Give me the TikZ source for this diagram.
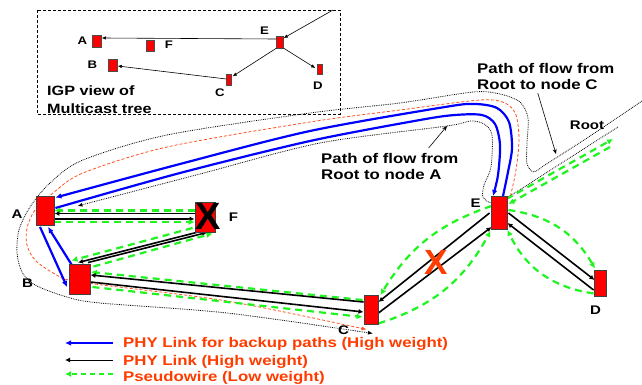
\documentclass[tikz,border=0pt]{standalone}
\usepackage{fontspec}
\setmainfont{Liberation Sans}[FakeStretch=1.2]
\newfontfamily\narrowsans{Liberation Sans}
\usetikzlibrary{arrows.meta,calc,positioning,backgrounds}
\definecolor{pwgreen}{RGB}{30,245,30}
\definecolor{flowred}{RGB}{255,80,30}
\definecolor{legred}{RGB}{255,60,0}

\begin{document}
\begin{tikzpicture}[x=1pt,y=-1pt,
  router/.style={draw=black!75,line width=0.9pt,fill=red,inner sep=0pt},
  mini/.style={draw=black!70,line width=0.5pt,fill=red,inner sep=0pt},
  phy/.style={line width=1.6pt,-{Latex[length=5pt,width=5pt]}},
  pw/.style={pwgreen,line width=2.2pt,dash pattern=on 7pt off 5pt,-{Latex[length=6pt,width=6pt]}},
  backup/.style={blue,line width=2.2pt,-{Latex[length=6pt,width=5.5pt]}},
  rootpath/.style={line width=0.8pt,densely dotted,-{Latex[length=5pt,width=4pt]}},
  redpath/.style={flowred,line width=0.8pt,dash pattern=on 3pt off 2pt,-{Latex[length=5pt,width=4pt]}},
  igp/.style={line width=0.6pt,-{Latex[length=4pt,width=3.5pt]}},
  lbl/.style={font=\bfseries\fontsize{12.5}{15}\selectfont,inner sep=0pt},
  small/.style={font=\bfseries\fontsize{11}{13}\selectfont,inner sep=0pt},
  note/.style={font=\bfseries\fontsize{14}{16.5}\selectfont,inner sep=0pt,align=left,anchor=north west},
  legend/.style={text=legred,font=\bfseries\fontsize{14}{16}\selectfont,inner sep=0pt,anchor=base west}]

\useasboundingbox (0,0) rectangle (642,385);

% IGP view of the tree
\draw[line width=0.8pt,dash pattern=on 3pt off 2pt] (37,10) rectangle (340,114);
\node[mini,minimum width=9pt,minimum height=12pt] (ia) at (97,41) {};
\node[mini,minimum width=8pt,minimum height=11pt] (if) at (150,46) {};
\node[mini,minimum width=9pt,minimum height=12pt] (ib) at (113,65) {};
\node[mini,minimum width=7pt,minimum height=12pt] (ie) at (280,42) {};
\node[mini,minimum width=5pt,minimum height=11pt] (ic) at (229,80) {};
\node[mini,minimum width=5pt,minimum height=10pt] (id) at (320,69) {};
\coordinate (iroot) at (333,10);
\node[small] at (82.5,41) {A};
\node[small] at (169,45) {F};
\node[small] at (92.5,65) {B};
\node[small] at (264.5,30.5) {E};
\node[small] at (220,93) {C};
\node[small] at (318,86) {D};
\node[note,font=\bfseries\fontsize{13.5}{18}\selectfont] (igpview) at (47,86) {IGP view of\\Multicast tree};
\draw[igp] (iroot) -- ($(ie.east)+(0,-4)$);
\draw[igp] ($(ie.west)+(0,-3)$) -- ($(ia.east)+(0,-3)$);
\draw[igp] ($(ie.south west)+(0,0)$) -- ($(ic.north east)+(1,2)$);
\draw[igp] ($(ie.south east)$) -- ($(id.west)+(-2,-1)$);
\draw[igp] ($(ic.west)+(0,-1)$) -- ($(ib.east)+(0,1)$);

% routers
\node[router,minimum width=18pt,minimum height=29pt] (A) at (45,211) {};
\node[router,minimum width=21pt,minimum height=30pt] (B) at (79.5,279) {};
\node[router,minimum width=20pt,minimum height=30pt] (F) at (205,217) {};
\node[router,minimum width=14pt,minimum height=29pt] (C) at (371,310) {};
\node[router,minimum width=16pt,minimum height=33pt] (E) at (499,213) {};
\node[router,minimum width=12pt,minimum height=26pt] (D) at (600,283) {};
\node[lbl] at (17,214.5) {A};
\node[lbl] at (27.5,283.5) {B};
\node[lbl] at (233.5,217.5) {F};
\node[lbl] at (343.5,330.5) {C};
\node[lbl] at (475.5,203.5) {E};
\node[lbl] at (595.5,310.5) {D};
\node[font=\narrowsans\bfseries\fontsize{38}{38}\selectfont,inner sep=0pt] (fail) at (208.5,216) {X};
\node[font=\narrowsans\bfseries\fontsize{35}{35}\selectfont,text=legred,inner sep=0pt] (cut) at (436,262) {X};

% flows and notes
\coordinate (rootC) at (642,101);
\coordinate (rootA) at (618,127);
\coordinate (pwOut) at (613,139);
\coordinate (pwIn) at (610,147);
\node[lbl] (root) at (587,125) {Root};
\node[note] (noteC) at (477,63) {Path of flow from\\Root to node C};
\node[note] (noteA) at (321,153) {Path of flow from\\Root to node A};
\coordinate (hC) at (556,154);
\coordinate (hA) at (447,126);
\draw[line width=0.6pt,-{Stealth[length=5pt,width=4pt]}] ($(noteC.south)+(-8,3)$) -- (hC);
\draw[line width=0.6pt,-{Stealth[length=5pt,width=4pt]}] ($(noteA.north east)+(-30,-5)$) -- (hA);

\coordinate (bo1) at ($(E.north)+(4,0)$);
\coordinate (bo2) at ($(A.north east)+(1,1.5)$);
\coordinate (bi1) at ($(A.east)+(1,-3)$);
\coordinate (bi2) at ($(E.north)+(-6,0)$);
\coordinate (or1) at ($(E.north east)+(3,0)$);
\coordinate (or2) at ($(C.south west)+(3,4.5)$);
\coordinate (dc) at ($(C.south)+(2,8.5)$);
\coordinate (da) at ($(A.east)+(23,-5)$);

\begin{scope}[on background layer]
\draw[rootpath] plot[smooth] coordinates {(rootC) (590,136) (545,165) (534,172) (527,164) (527,143) (528,118) (520,102) (500,94) (473,92) (400,103) (310,113) (167,135) (83,160) (50,183) (30,207) (19,230) (17,253) (22,272) (35,285) (67,297) (100,303) (227,313) (dc)};
\draw[redpath] plot[smooth] coordinates {(or1) (516,170) (519,140) (516,115) (505,103) (480,100) (400,110) (310,122) (167,147) (83,173) (53,193) (35,210) (27,228) (27,245) (35,260) (55,274) (80,282) (227,301) (or2)};
\draw[backup] plot[smooth] coordinates {(bo1) (508,172) (512,148) (509,122) (497,108) (475,104) (445,107) (310,131) (180,164) (bo2)};
\draw[backup] plot[smooth] coordinates {(bi1) (180,173) (310,141) (420,120) (455,115) (482,115) (495,124) (500,145) (498,175) (bi2)};
\draw[rootpath] plot[smooth] coordinates {(rootA) (560,164) (508,197) (492,203) (483,197) (484,185) (491,167) (492,135) (484,124) (470,121) (447,126) (320,143) (200,174) (da)};

% A -- F
\draw[pw] ($(F.west)+(0,-6.5)$) -- ($(A.east)+(0,-0.5)$);
\draw[phy] ($(F.west)+(0,-3.5)$) -- ($(A.east)+(0,2.5)$);
\draw[phy] ($(A.east)+(0,8)$) -- ($(F.west)+(0,2)$);
\draw[pw] ($(A.east)+(0,11)$) -- ($(F.west)+(0,5)$);
% F -- B
\draw[pw] ($(F.west)+(-2,11)$) -- ($(B.north west)+(3,-3)$);
\draw[phy] ($(F.south west)+(2,0)$) -- ($(B.north)+(-1.5,-1)$);
\draw[phy] ($(B.north)+(8.5,-1)$) -- ($(F.south)+(2,0)$);
\draw[pw] ($(B.north east)+(3,3)$) -- ($(F.south east)+(-3,1)$);
% A -- B
\draw[backup] ($(A.south)+(-5,1)$) -- ($(B.west)+(-1.5,8)$);
\draw[backup] ($(B.north west)+(3,1)$) -- ($(A.south)+(3,1)$);
% B -- C
\draw[pw] ($(C.west)+(-1,-10)$) -- ($(B.east)+(0.5,-7)$);
\draw[phy] ($(C.west)+(0,-8)$) -- ($(B.east)+(0,-4)$);
\draw[phy] ($(B.east)+(0,3)$) -- ($(C.west)+(0,2)$);
\draw[pw] ($(B.east)+(2,8)$) -- ($(C.west)+(-1,7)$);
% C -- E
\draw[phy] ($(E.west)+(-1,0)$) -- ($(C.east)+(0,-8)$);
\draw[phy] ($(C.east)+(0,3)$) -- ($(E.west)+(1,14)$);
\draw[pw] ($(E.west)+(1,-7)$) to[bend right=20] ($(C.north east)+(2,0)$);
\draw[pw] ($(C.south east)+(0,-1.5)$) to[bend right=22] ($(E.south west)+(0,1)$);
% E -- D
\draw[phy] ($(E.east)+(1,0)$) -- ($(D.west)+(1,-3)$);
\draw[phy] ($(D.west)+(0,7)$) -- ($(E.east)+(0,10)$);
\draw[pw] ($(E.east)+(1,-3)$) to[bend left=26] ($(D.north)+(-5,-1)$);
\draw[pw] ($(D.south west)+(0,-3)$) to[bend left=28] (E.south east);
% E -- root
\draw[pw] ($(E.north east)+(-1,3)$) -- (pwOut);
\draw[pw] (pwIn) -- ($(E.north east)+(1,8)$);
\end{scope}

% legend
\node[legend] (lg1) at (123,347.5) {PHY Link for backup paths (High weight)};
\node[legend] (lg2) at (123,365) {PHY Link (High weight)};
\node[legend] (lg3) at (123,381) {Pseudowire (Low weight)};
\draw[backup,line width=1.6pt] ($(lg1.base west)+(-10,-4.5)$) -- ++(-48,0);
\draw[phy,line width=1pt] ($(lg2.base west)+(-10,-5)$) -- ++(-48,0);
\draw[pw,line width=1.3pt,dash pattern=on 5pt off 4pt] ($(lg3.base west)+(-10,-7)$) -- ++(-48,0);
\end{tikzpicture}
\end{document}
